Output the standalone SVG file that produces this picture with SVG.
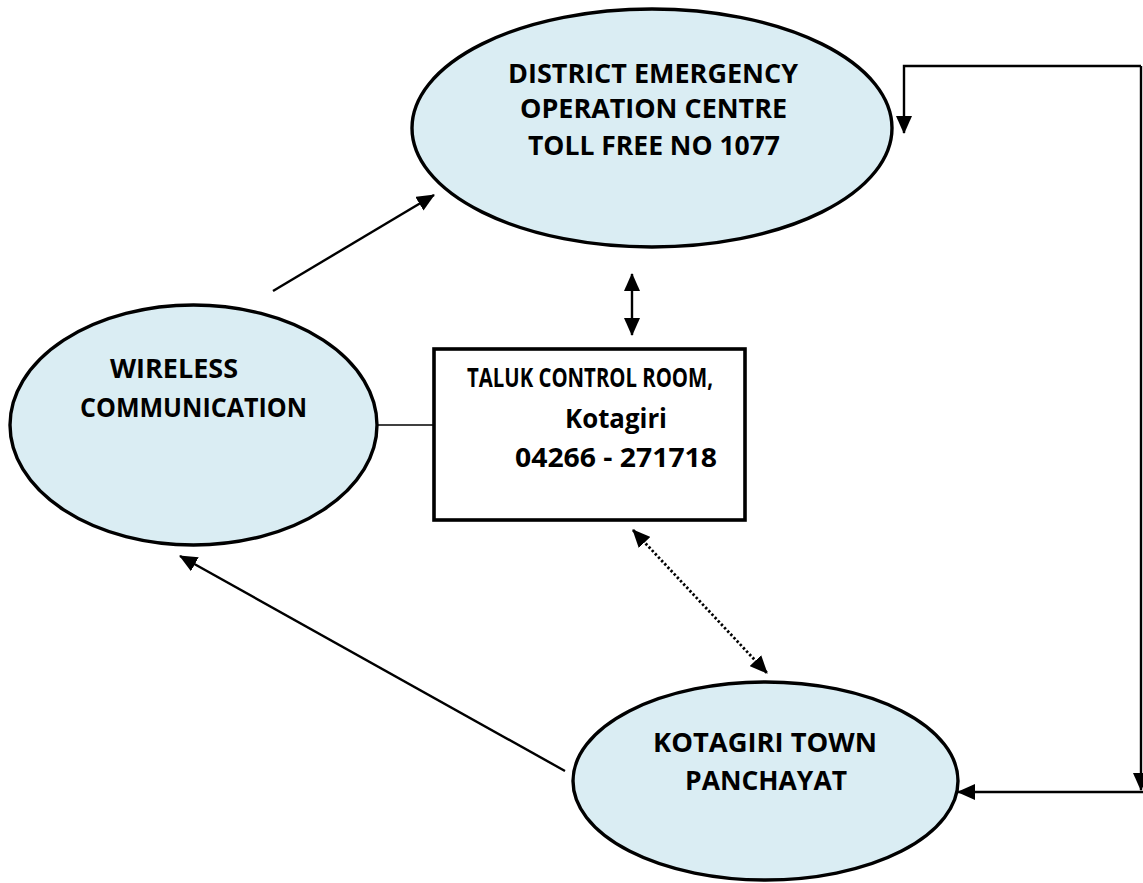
<svg xmlns="http://www.w3.org/2000/svg" width="1143" height="883" viewBox="0 0 1143 883">
<style>
.node{fill:#daedf3;stroke:#000;stroke-width:3.4}
.box{fill:#fff;stroke:#000;stroke-width:3.6}
.t{font-family:"Open Sans","Liberation Sans",Arial,sans-serif;font-weight:bold;font-size:26px;fill:#000}
.c{fill:none;stroke:#000;stroke-width:2.4}
.dot{fill:none;stroke:#000;stroke-width:2.8;stroke-dasharray:2.4 2.2}
</style>
<defs>
<marker id="ah" markerUnits="userSpaceOnUse" markerWidth="18" markerHeight="16" refX="17" refY="8" orient="auto-start-reverse">
<path d="M0,0 L18,8 L0,16 Z" fill="#000"/>
</marker>
</defs>
<rect width="1143" height="883" fill="#fff"/>
<g id="connectors">
<line class="c" x1="273" y1="291" x2="434" y2="195" marker-end="url(#ah)"/>
<line class="c" x1="632" y1="274" x2="632" y2="335" marker-start="url(#ah)" marker-end="url(#ah)"/>
<line class="dot" x1="633" y1="530" x2="767" y2="673" marker-start="url(#ah)" marker-end="url(#ah)"/>
<line class="c" x1="565" y1="771" x2="180" y2="556" marker-end="url(#ah)"/>
<line x1="377" y1="425" x2="434" y2="425" stroke="#000" stroke-width="1.6"/>
<polyline class="c" points="1141,66 904,66 904,133" marker-end="url(#ah)"/>
<polyline class="c" points="1141,66 1141,790" marker-end="url(#ah)"/>
<line class="c" x1="1143" y1="792" x2="958" y2="792" marker-end="url(#ah)"/>
</g>
<g id="district">
<ellipse class="node" cx="652" cy="128" rx="240" ry="119"/>
<text class="t" x="508" y="83" textLength="290" lengthAdjust="spacingAndGlyphs">DISTRICT EMERGENCY</text>
<text class="t" x="520" y="118" textLength="267" lengthAdjust="spacingAndGlyphs">OPERATION CENTRE</text>
<text class="t" x="528" y="155" textLength="252" lengthAdjust="spacingAndGlyphs">TOLL FREE NO 1077</text>
</g>
<g id="wireless">
<ellipse class="node" cx="193.5" cy="425" rx="183.5" ry="120"/>
<text class="t" x="110" y="378" textLength="128" lengthAdjust="spacingAndGlyphs">WIRELESS</text>
<text class="t" x="80" y="417" textLength="227" lengthAdjust="spacingAndGlyphs">COMMUNICATION</text>
</g>
<g id="taluk">
<rect class="box" x="434" y="349" width="311" height="171"/>
<text class="t" x="467" y="387" textLength="246" lengthAdjust="spacingAndGlyphs">TALUK CONTROL ROOM,</text>
<text class="t" x="565" y="428" textLength="102" lengthAdjust="spacingAndGlyphs">Kotagiri</text>
<text class="t" x="515" y="467" textLength="202" lengthAdjust="spacingAndGlyphs">04266 - 271718</text>
</g>
<g id="panchayat">
<ellipse class="node" cx="765.5" cy="781" rx="192.5" ry="99"/>
<text class="t" x="653" y="752" textLength="224" lengthAdjust="spacingAndGlyphs">KOTAGIRI TOWN</text>
<text class="t" x="685" y="790" textLength="162" lengthAdjust="spacingAndGlyphs">PANCHAYAT</text>
</g>
</svg>
